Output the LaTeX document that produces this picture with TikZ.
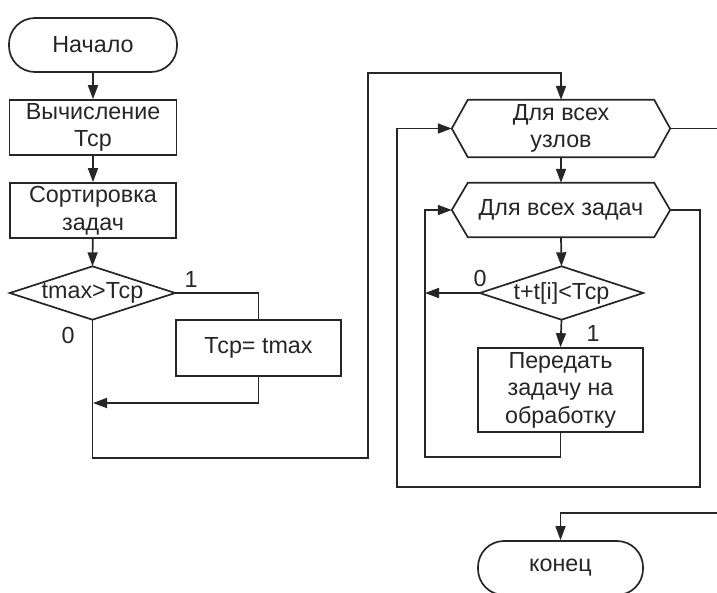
\documentclass[tikz,border=0pt]{standalone}
\usepackage{fontspec}
\setmainfont{Liberation Sans}
\usetikzlibrary{arrows.meta}
\begin{document}
\begin{tikzpicture}[x=1pt,y=-1pt,
  every node/.style={font=\fontsize{23.3}{27.5}\selectfont, text=black!85},
  box/.style={draw=black!85, line width=1.7pt, rectangle, inner sep=0pt, align=center},
  term/.style={box, rounded corners=26pt},
  shp/.style={rectangle, inner sep=0pt, align=center},
  ln/.style={draw=black!85, line width=1.7pt},
  arr/.style={ln, -{Triangle[length=14pt,width=10pt]}},
  lbl/.style={inner sep=0pt}
]
\clip (0,0) rectangle (717,592);
\fill[white] (0,0) rectangle (717,592);

% left column
\node[term, minimum width=168pt, minimum height=54pt] (start) at (93,45) {Начало};
\node[box, minimum width=167pt, minimum height=55pt] (calc) at (93,127.5) {Вычисление\\Тср};
\node[box, minimum width=166pt, minimum height=55pt] (sort) at (93,210.5) {Сортировка\\задач};
\node[shp, minimum width=165pt, minimum height=53pt] (d1) at (92.5,293) {tmax>Тср};
\draw[ln] (d1.north) -- (d1.east) -- (d1.south) -- (d1.west) -- cycle;
\node[box, minimum width=165pt, minimum height=56pt] (tset) at (258.5,348) {Тср= tmax};

% right column
\node[shp, minimum width=218pt, minimum height=57pt] (h1) at (561,128.5) {Для всех\\узлов};
\draw[ln] ([xshift=16pt]h1.north west) -- ([xshift=-16pt]h1.north east) -- (h1.east)
  -- ([xshift=-16pt]h1.south east) -- ([xshift=16pt]h1.south west) -- (h1.west) -- cycle;
\node[shp, minimum width=218pt, minimum height=54pt] (h2) at (561,210) {Для всех задач};
\draw[ln] ([xshift=16pt]h2.north west) -- ([xshift=-16pt]h2.north east) -- (h2.east)
  -- ([xshift=-16pt]h2.south east) -- ([xshift=16pt]h2.south west) -- (h2.west) -- cycle;
\node[shp, minimum width=163pt, minimum height=53pt] (d2) at (561.5,293) {t+t[i]<Тср};
\draw[ln] (d2.north) -- (d2.east) -- (d2.south) -- (d2.west) -- cycle;
\node[box, minimum width=165pt, minimum height=84pt] (pass) at (560.5,390) {Передать\\задачу на\\обработку};
\node[term, minimum width=165pt, minimum height=54pt] (endn) at (560.5,568) {конец};

% labels
\node[lbl] (l1) at (191,279) {1};
\node[lbl] (l0) at (68,335) {0};
\node[lbl] (l2) at (480,278) {0};
\node[lbl] (l3) at (593,333) {1};

% coordinates
\coordinate (m1) at (93,403);
\coordinate (c1) at (368,458);
\coordinate (c2) at (368,73);
\coordinate (j2) at (425,293);
\coordinate (c3) at (425,457);
\coordinate (c4) at (700,487);
\coordinate (c5) at (397,487);
\coordinate (e1) at (720,128.5);
\coordinate (e2) at (720,513);

% connectors
\draw[arr] (start) -- (calc);
\draw[arr] (calc) -- (sort);
\draw[arr] (sort) -- (d1.north);
\draw[ln] (d1.east) -| (tset.north);
\draw[arr] (tset.south) |- (m1);
\draw[arr] (d1.south) |- (c1) -- (c2) -| (h1.north);
\draw[arr] (h1.south) -- (h2.north);
\draw[arr] (h2.south) -- (d2.north);
\draw[arr] (d2.south) -- (pass.north);
\draw[arr] (d2.west) -- (j2);
\draw[arr] (pass.south) |- (c3) |- (h2.west);
\draw[arr] (h2.east) -| (c4) -- (c5) |- (h1.west);
\draw[ln] (h1.east) -- (e1);
\draw[arr] (e2) -| (endn.north);
\end{tikzpicture}
\end{document}
